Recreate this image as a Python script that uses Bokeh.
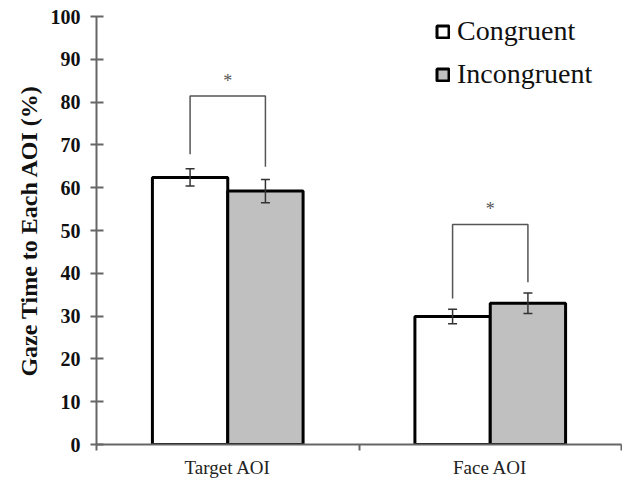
from bokeh.plotting import figure
from bokeh.models import (Range1d, FixedTicker, ColumnDataSource, Whisker, TeeHead,
                          Legend, LegendItem)
from bokeh.core.properties import value
from bokeh.embed import file_html
from bokeh.resources import INLINE

# ---- data ----
categories = ["Target AOI", "Face AOI"]
series = ["Congruent", "Incongruent"]
congruent = [62.4, 29.9]
incongruent = [59.2, 33.0]
congruent_err = [2.0, 1.7]
incongruent_err = [2.7, 2.4]
bracket_top = [81.4, 51.4]
bracket_left_end = [67.8, 34.1]
bracket_right_end = [64.9, 37.9]
star_level = [84.9, 55.0]
y_ticks = [0, 10, 20, 30, 40, 50, 60, 70, 80, 90, 100]

FONT = "Liberation Serif"

centers = [i + 0.5 for i in range(len(categories))]
bounds = list(range(len(categories) + 1))
bar_w = 0.287
off = bar_w / 2
x_con = [c - off for c in centers]
x_inc = [c + off for c in centers]

p = figure(width=622, height=480, x_range=Range1d(0, len(categories)),
           y_range=Range1d(y_ticks[0], y_ticks[-1]),
           output_backend="svg", toolbar_location=None,
           min_border_left=96, min_border_right=1, min_border_top=16,
           min_border_bottom=36)
p.outline_line_color = None
p.xgrid.visible = False
p.ygrid.visible = False
p.background_fill_color = "white"

src_c = ColumnDataSource(dict(x=x_con, top=congruent,
                              upper=[v + e for v, e in zip(congruent, congruent_err)],
                              lower=[v - e for v, e in zip(congruent, congruent_err)]))
src_i = ColumnDataSource(dict(x=x_inc, top=incongruent,
                              upper=[v + e for v, e in zip(incongruent, incongruent_err)],
                              lower=[v - e for v, e in zip(incongruent, incongruent_err)]))

r1 = p.vbar(x="x", top="top", width=bar_w, source=src_c, fill_color="white",
            line_color="black", line_width=3)
r2 = p.vbar(x="x", top="top", width=bar_w, source=src_i, fill_color="#c0c0c0",
            line_color="black", line_width=3)

for src in (src_c, src_i):
    w = Whisker(base="x", upper="upper", lower="lower", source=src, level="overlay",
                line_color="#333333", line_width=1.5,
                upper_head=TeeHead(size=9, line_color="#333333", line_width=1.5),
                lower_head=TeeHead(size=9, line_color="#333333", line_width=1.5))
    p.add_layout(w)

# significance brackets
xs = [[xl, xl, xr, xr] for xl, xr in zip(x_con, x_inc)]
ys = [[le, t, t, re] for le, t, re in zip(bracket_left_end, bracket_top, bracket_right_end)]
p.multi_line(xs=xs, ys=ys, line_color="#555555", line_width=1.5)
p.text(x=centers, y=star_level, text=["*"] * len(centers), text_align="center",
       text_baseline="middle", text_font=value(FONT), text_font_size="18px",
       text_color="#555555")

# y axis
yax = p.yaxis[0]
yax.ticker = FixedTicker(ticks=y_ticks)
yax.axis_line_color = "#666666"
yax.axis_line_width = 2
yax.major_tick_line_color = "#666666"
yax.major_tick_line_width = 2
yax.major_tick_in = 7
yax.major_tick_out = 6
yax.minor_tick_line_color = None
yax.major_label_text_font = FONT
yax.major_label_text_font_size = "20px"
yax.major_label_text_font_style = "bold"
yax.major_label_text_color = "#111111"
yax.major_label_standoff = 10
yax.axis_label = "Gaze Time to Each AOI (%)"
yax.axis_label_text_font = FONT
yax.axis_label_text_font_size = "24px"
yax.axis_label_text_font_style = "bold"
yax.axis_label_text_color = "#111111"
yax.axis_label_standoff = 6

# x axis
xax = p.xaxis[0]
xax.ticker = FixedTicker(ticks=centers, minor_ticks=bounds)
xax.major_label_overrides = {c: lab for c, lab in zip(centers, categories)}
xax.axis_line_color = "#666666"
xax.axis_line_width = 2
xax.major_tick_line_color = None
xax.major_tick_in = 0
xax.major_tick_out = 0
xax.minor_tick_line_color = "#666666"
xax.minor_tick_line_width = 2
xax.minor_tick_in = 0
xax.minor_tick_out = 6
xax.major_label_text_font = FONT
xax.major_label_text_font_size = "19px"
xax.major_label_text_color = "#222222"
xax.major_label_standoff = 6

legend = Legend(items=[LegendItem(label=series[0], renderers=[r1]),
                       LegendItem(label=series[1], renderers=[r2])],
                location=(339, 354),
                label_text_font=FONT,
                label_text_font_size="28px",
                label_text_font_style="normal",
                label_text_color="#111111",
                label_height=32, glyph_height=15, glyph_width=15,
                spacing=11, label_standoff=7, padding=0, margin=0,
                border_line_color=None, background_fill_alpha=0)
p.add_layout(legend, "center")

open("out.html", "w").write(file_html(p, INLINE))
